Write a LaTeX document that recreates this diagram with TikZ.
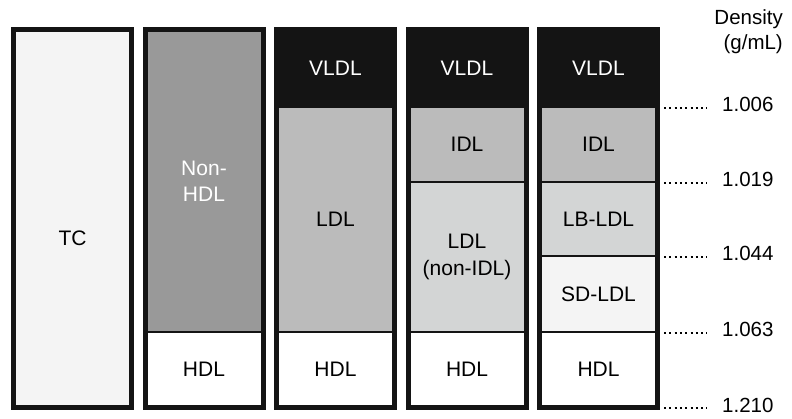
\documentclass[tikz,border=0pt]{standalone}
\usepackage{fontspec}
\setmainfont{Liberation Sans}
\usetikzlibrary{calc}

\definecolor{frameblack}{HTML}{141414}
\definecolor{palegray}{HTML}{F4F4F4}
\definecolor{midgray}{HTML}{999999}
\definecolor{lightgray}{HTML}{BBBBBB}
\definecolor{softgray}{HTML}{D3D5D5}

\tikzset{
    seg/.style={draw=frameblack, line width=2pt, minimum width=116pt, inner sep=0pt,
        anchor=north, align=center, font=\fontsize{21}{26.5}\selectfont},
    colframe/.style={draw=frameblack, line width=5pt},
    denslabel/.style={anchor=west, inner sep=0pt, font=\fontsize{20.5}{25}\selectfont},
    densline/.style={line width=2pt, dash pattern=on 2pt off 3.3pt, shorten <=6.5pt, shorten >=15pt}
}

\begin{document}
\begin{tikzpicture}[x=1pt, y=-1pt]

    \useasboundingbox (0,0) rectangle (792,419);

    %column 1:
    \node[seg, fill=palegray, minimum height=376pt] (tc) at (72.5,29.5) {};
    \node[font=\fontsize{21}{26.5}\selectfont] (tclabel) at (72.5,238.5) {TC};

    %column 2:
    \node[seg, fill=midgray, text=white, minimum height=301.5pt] (nonhdl) at (204,29.5) {Non-\\HDL};
    \node[seg, fill=white, minimum height=74.5pt] (hdlb) at (204,331) {HDL};

    %column 3:
    \node[seg, fill=frameblack, text=white, minimum height=76.5pt] (vldlc) at (335.5,29.5) {VLDL};
    \node[seg, fill=lightgray, minimum height=225pt] (ldlc) at (335.5,106) {LDL};
    \node[seg, fill=white, minimum height=74.5pt] (hdlc) at (335.5,331) {HDL};

    %column 4:
    \node[seg, fill=frameblack, text=white, minimum height=76.5pt] (vldld) at (467,29.5) {VLDL};
    \node[seg, fill=lightgray, minimum height=75pt] (idld) at (467,106) {IDL};
    \node[seg, fill=softgray, minimum height=150pt] (ldld) at (467,181) {LDL\\(non-IDL)};
    \node[seg, fill=white, minimum height=74.5pt] (hdld) at (467,331) {HDL};

    %column 5:
    \node[seg, fill=frameblack, text=white, minimum height=76.5pt] (vldle) at (598.5,29.5) {VLDL};
    \node[seg, fill=lightgray, minimum height=75pt] (idle) at (598.5,106) {IDL};
    \node[seg, fill=softgray, minimum height=74pt] (lbldl) at (598.5,181) {LB-LDL};
    \node[seg, fill=palegray, minimum height=76pt] (sdldl) at (598.5,255) {SD-LDL};
    \node[seg, fill=white, minimum height=74.5pt] (hdle) at (598.5,331) {HDL};

    %draw frames:
    \draw[colframe] (tc.north west) rectangle (tc.south east);
    \draw[colframe] (nonhdl.north west) rectangle (hdlb.south east);
    \draw[colframe] (vldlc.north west) rectangle (hdlc.south east);
    \draw[colframe] (vldld.north west) rectangle (hdld.south east);
    \draw[colframe] (vldle.north west) rectangle (hdle.south east);

    %density scale:
    \node[anchor=north east, inner sep=0pt, align=right, font=\fontsize{20.5}{25}\selectfont] (dens) at (783,9) {Density\\(g/mL)};
    \node[denslabel] (da) at (722,104) {1.006};
    \node[denslabel] (db) at (722,179) {1.019};
    \node[denslabel] (dc) at (722,253) {1.044};
    \node[denslabel] (dd) at (722,329) {1.063};
    \node[denslabel] (de) at (722,405.5) {1.210};
    \draw[densline] (vldle.south east) -- (da.west |- vldle.south east);
    \draw[densline] (idle.south east) -- (db.west |- idle.south east);
    \draw[densline] (lbldl.south east) -- (dc.west |- lbldl.south east);
    \draw[densline] (sdldl.south east) -- (dd.west |- sdldl.south east);
    \draw[densline] (hdle.south east) -- (de.west |- hdle.south east);

\end{tikzpicture}
\end{document}
